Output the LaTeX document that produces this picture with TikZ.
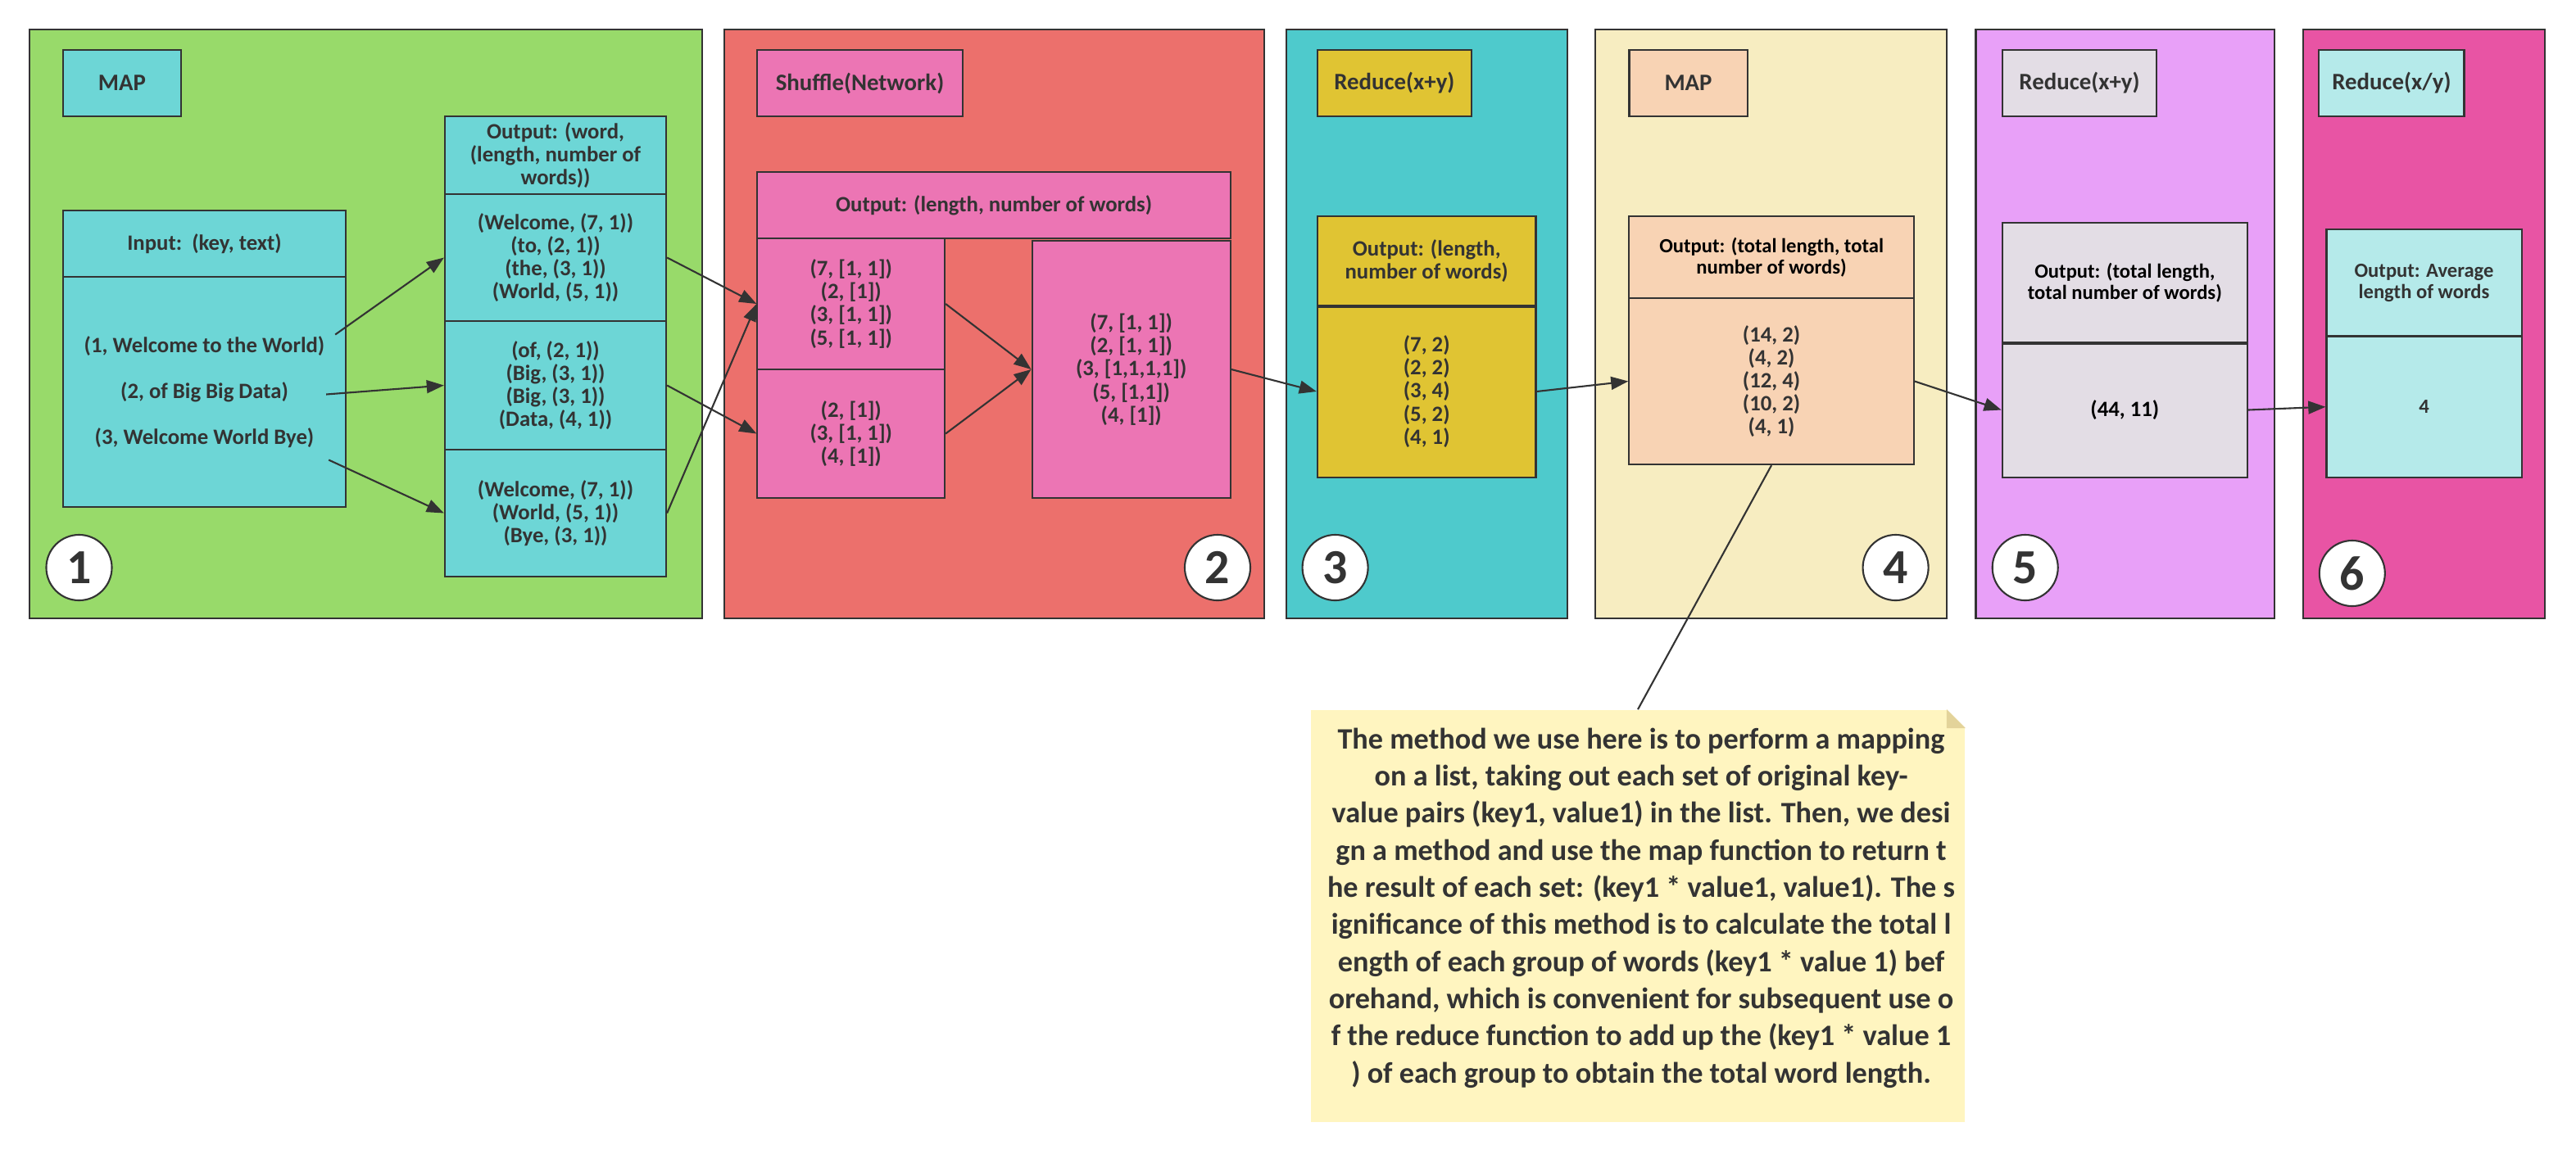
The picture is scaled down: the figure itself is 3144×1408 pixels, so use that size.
\documentclass[tikz,border=0pt]{standalone}
\usepackage{fontspec}
\setmainfont{Carlito}
\usetikzlibrary{arrows.meta,calc}

\definecolor{linec}{HTML}{333333}
\definecolor{textc}{HTML}{333333}
\definecolor{mapgreen}{HTML}{98DA6A}
\definecolor{mapcyan}{HTML}{6DD6D6}
\definecolor{shufred}{HTML}{EC706C}
\definecolor{shufpink}{HTML}{EC75B4}
\definecolor{redteal}{HTML}{4ECACC}
\definecolor{redyellow}{HTML}{E0C433}
\definecolor{mapcream}{HTML}{F7EDC1}
\definecolor{mappeach}{HTML}{F8D3B4}
\definecolor{sumviolet}{HTML}{E8A0F8}
\definecolor{sumgrey}{HTML}{E3DDE5}
\definecolor{avgmagenta}{HTML}{E854A4}
\definecolor{avgcyan}{HTML}{B5EAEA}
\definecolor{notec}{HTML}{FFF5C0}
\definecolor{foldc}{HTML}{E3D39A}

\tikzset{
  panel/.style={draw=linec, line width=0.6pt, inner sep=0pt, minimum height=7.19cm},
  title/.style={draw=linec, line width=0.6pt, inner sep=0pt, text=textc, minimum height=0.81cm,
    font=\fontsize{8.2}{9.6}\selectfont\bfseries},
  cell/.style={draw=linec, line width=0.6pt, inner sep=0pt, text=textc, align=center,
    font=\fontsize{7.6}{8}\selectfont\bfseries},
  smalltext/.style={text=black, font=\fontsize{7}{7.3}\selectfont\bfseries},
  stepno/.style={circle, draw=linec, line width=0.6pt, fill=white, minimum size=0.8cm, inner sep=0pt,
    text=textc, font=\fontsize{17}{17}\selectfont\bfseries},
  flow/.style={draw=linec, line width=0.6pt, -{Triangle[length=6pt,width=4.5pt]}},
  link/.style={draw=linec, line width=0.6pt}
}

\begin{document}
\begin{tikzpicture}[x=0.01cm, y=-0.01cm]
\useasboundingbox (0,0) rectangle (3144,1408);

% panels
\node[panel, fill=mapgreen, minimum width=8.21cm] (p1) at (446.5,395.5) {};
\node[panel, fill=shufred, minimum width=6.59cm] (p2) at (1213.5,395.5) {};
\node[panel, fill=redteal, minimum width=3.425cm] (p3) at (1741.25,395.5) {};
\node[panel, fill=mapcream, minimum width=4.29cm] (p4) at (2161.5,395.5) {};
\node[panel, fill=sumviolet, minimum width=3.64cm] (p5) at (2593.6,395.5) {};
\node[panel, fill=avgmagenta, minimum width=2.953cm] (p6) at (2958.35,395.5) {};

% titles
\node[title, fill=mapcyan, minimum width=1.44cm] (t1) at (149,101.5) {MAP};
\node[title, fill=shufpink, minimum width=2.5cm] (t2) at (1049.5,101.5) {Shuffle(Network)};
\node[title, fill=redyellow, minimum width=1.877cm] (t3) at (1701.85,101.5) {Reduce(x+y)};
\node[title, fill=mappeach, minimum width=1.44cm] (t4) at (2060.5,101.5) {MAP};
\node[title, fill=sumgrey, minimum width=1.885cm] (t5) at (2538,101.5) {Reduce(x+y)};
\node[title, fill=avgcyan, minimum width=1.77cm] (t6) at (2918.9,101.5) {Reduce(x/y)};

% step 1: map
\node[cell, fill=mapcyan, minimum width=3.45cm, minimum height=0.81cm] (inhead) at (249.5,297.5) {Input:\ \ (key, text)};
\node[cell, fill=mapcyan, minimum width=3.45cm, minimum height=2.81cm, font=\fontsize{7.6}{16}\selectfont\bfseries] (inbody) at (249.5,478.5)
  {(1, Welcome to the World)\\(2, of Big Big Data)\\(3, Welcome World Bye)};
\node[cell, fill=mapcyan, minimum width=2.7cm, minimum height=0.95cm] (outhead) at (678,189.5) {Output: (word,\\(length, number of\\words))};
\node[cell, fill=mapcyan, minimum width=2.7cm, minimum height=1.55cm] (outa) at (678,314.5)
  {(Welcome, (7, 1))\\(to, (2, 1))\\(the, (3, 1))\\(World, (5, 1))};
\node[cell, fill=mapcyan, minimum width=2.7cm, minimum height=1.57cm] (outb) at (678,470.5)
  {(of, (2, 1))\\(Big, (3, 1))\\(Big, (3, 1))\\(Data, (4, 1))};
\node[cell, fill=mapcyan, minimum width=2.7cm, minimum height=1.55cm] (outc) at (678,626.5)
  {(Welcome, (7, 1))\\(World, (5, 1))\\(Bye, (3, 1))};

% step 2: shuffle
\node[cell, fill=shufpink, minimum width=5.772cm, minimum height=0.81cm] (shead) at (1213.1,250.5) {Output: (length, number of words)};
\node[cell, fill=shufpink, minimum width=2.285cm, minimum height=1.6cm] (sa) at (1038.75,371)
  {(7, [1, 1])\\(2, [1])\\(3, [1, 1])\\(5, [1, 1])};
\node[cell, fill=shufpink, minimum width=2.285cm, minimum height=1.57cm] (sb) at (1038.75,529.5)
  {(2, [1])\\(3, [1, 1])\\(4, [1])};
\node[cell, fill=shufpink, minimum width=2.42cm, minimum height=3.14cm] (sc) at (1380.7,451)
  {(7, [1, 1])\\(2, [1, 1])\\(3, [1,1,1,1])\\(5, [1,1])\\(4, [1])};

% step 3: reduce
\node[cell, fill=redyellow, minimum width=2.664cm, minimum height=1.09cm] (rhead) at (1741.2,318.5) {Output: (length,\\number of words)};
\node[cell, fill=redyellow, minimum width=2.664cm, minimum height=2.1cm] (rbody) at (1741.2,478)
  {(7, 2)\\(2, 2)\\(3, 4)\\(5, 2)\\(4, 1)};
\draw[link, line width=1.3pt] (rhead.south west) -- (rhead.south east);

% step 4: map
\node[cell, fill=mappeach, minimum width=3.471cm, minimum height=1cm, smalltext] (mhead) at (2162.05,314) {Output: (total length, total\\number of words)};
\node[cell, fill=mappeach, minimum width=3.471cm, minimum height=2.03cm] (mbody) at (2162.05,465.5)
  {(14, 2)\\(4, 2)\\(12, 4)\\(10, 2)\\(4, 1)};

% step 5: reduce
\node[cell, fill=sumgrey, minimum width=2.991cm, minimum height=1.46cm, smalltext] (thead) at (2593.35,345) {Output: (total length,\\total number of words)};
\node[cell, fill=sumgrey, minimum width=2.991cm, minimum height=1.65cm, text=black] (tbody) at (2593.35,500.5) {(44, 11)};
\draw[link, line width=1.3pt] (thead.south west) -- (thead.south east);

% step 6: average
\node[cell, fill=avgcyan, minimum width=2.38cm, minimum height=1.305cm, font=\fontsize{7}{7.3}\selectfont\bfseries] (ahead) at (2958.5,345.25) {Output: Average\\length of words};
\node[cell, fill=avgcyan, minimum width=2.38cm, minimum height=1.725cm, font=\fontsize{7}{7.3}\selectfont\bfseries] (abody) at (2958.5,496.75) {4};

% step numbers
\node[stepno] (n1) at (96.5,693) {1};
\node[stepno] (n2) at (1486,693) {2};
\node[stepno] (n3) at (1629.6,693) {3};
\node[stepno] (n4) at (2313.6,693) {4};
\node[stepno] (n5) at (2471.7,693) {5};
\node[stepno] (n6) at (2870.8,700) {6};

% note
\node[fill=notec, minimum width=7.98cm, minimum height=5.03cm, inner sep=0pt] (note) at (1999,1118.5) {};
\fill[white] (note.north east) -- ++(-23,0) -- ++(23,23) -- cycle;
\fill[foldc] ($(note.north east)+(-23,0)$) -- ++(0,23) -- ++(23,0) -- cycle;
\node[text=textc, align=center, inner sep=0pt, font=\fontsize{10.3}{12.9}\selectfont\bfseries] (notetxt) at (2003,1108.5)
  {The method we use here is to perform a mapping\\
   on a list, taking out each set of original key-\\
   value pairs (key1, value1) in the list. Then, we desi\\
   gn a method and use the map function to return t\\
   he result of each set: (key1 * value1, value1). The s\\
   ignificance of this method is to calculate the total l\\
   ength of each group of words (key1 * value 1) bef\\
   orehand, which is convenient for subsequent use o\\
   f the reduce function to add up the (key1 * value 1\\
   ) of each group to obtain the total word length.};

% connectors
\draw[flow] ($(inbody.east)+(-14,-70)$) -- (outa.west);
\draw[flow] ($(inbody.east)+(-25,3)$) -- (outb.west);
\draw[flow] ($(inbody.east)+(-22,83)$) -- (outc.west);
\draw[flow] (outa.east) -- (sa.west);
\draw[flow] (outc.east) -- (sa.west);
\draw[flow] (outb.east) -- (sb.west);
\draw[flow] (sa.east) -- (sc.west);
\draw[flow] (sb.east) -- (sc.west);
\draw[flow] (sc.east) -- (rbody.west);
\draw[flow] (rbody.east) -- (mbody.west);
\draw[flow] (mbody.east) -- (tbody.west);
\draw[flow] (tbody.east) -- (abody.west);
\draw[link] (mbody.south) -- (note.north);
\end{tikzpicture}
\end{document}
